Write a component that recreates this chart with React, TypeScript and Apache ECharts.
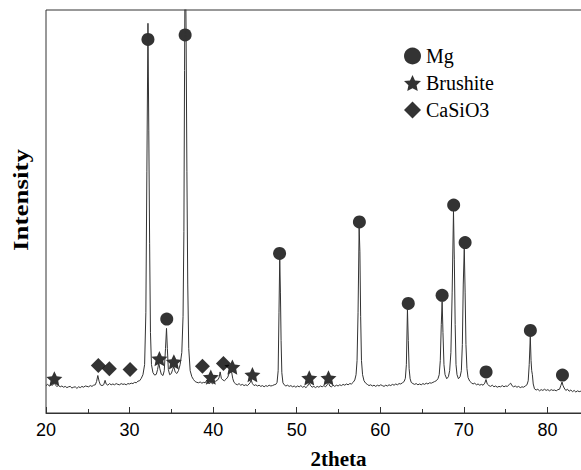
import React, { useEffect, useRef } from "react";
import * as echarts from "echarts";

// XRD pattern: [2theta, intensity (0-100 of the plot height)]
const pattern: [number, number][] = [
  [20.0, 6.8], [20.2, 7.1], [20.4, 6.7], [20.6, 7.0], [20.8, 6.9], [21.0, 7.6], [21.1, 7.0], [21.3, 6.6],
  [21.5, 6.8], [21.7, 6.5], [21.9, 6.7], [22.1, 6.4], [22.3, 6.6], [22.5, 6.3], [22.7, 6.5], [22.9, 6.6],
  [23.1, 6.2], [23.3, 6.4], [23.5, 6.5], [23.7, 6.1], [23.9, 6.5], [24.1, 6.3], [24.3, 6.6], [24.5, 6.4],
  [24.7, 6.7], [24.9, 6.6], [25.1, 6.5], [25.3, 6.8], [25.5, 6.6], [25.7, 6.9], [25.9, 7.0], [26.05, 7.8],
  [26.2, 9.3], [26.35, 7.9], [26.5, 7.0], [26.7, 6.8], [26.9, 7.0], [27.07, 8.1], [27.2, 7.2], [27.4, 6.9],
  [27.6, 7.3], [27.8, 7.0], [28.0, 7.2], [28.2, 7.0], [28.4, 7.3], [28.6, 7.1], [28.8, 7.0], [29.0, 7.3],
  [29.2, 7.1], [29.4, 7.2], [29.6, 7.0], [29.8, 7.3], [30.0, 7.2], [30.2, 7.4], [30.4, 7.3], [30.6, 7.6],
  [30.8, 7.5], [31.0, 7.9], [31.2, 8.0], [31.4, 8.6], [31.6, 9.5], [31.8, 12], [31.95, 25], [32.07, 60],
  [32.2, 96.7], [32.3, 70], [32.4, 42], [32.5, 20], [32.62, 12], [32.8, 10.0], [33.0, 9.4], [33.2, 9.6],
  [33.35, 10.8], [33.5, 12.5], [33.62, 11.0], [33.8, 9.6], [34.0, 9.3], [34.15, 10.5], [34.3, 16], [34.42, 21],
  [34.52, 16], [34.64, 10.8], [34.8, 9.5], [35.0, 9.8], [35.15, 10.8], [35.3, 11.5], [35.45, 10.2], [35.65, 9.8],
  [35.85, 10.5], [36.05, 12], [36.25, 15], [36.4, 24], [36.5, 45], [36.58, 85], [36.66, 120], [36.76, 95],
  [36.86, 60], [36.96, 32], [37.08, 16], [37.25, 10.5], [37.45, 9.0], [37.65, 8.3], [37.85, 7.8], [38.05, 7.6],
  [38.25, 7.5], [38.45, 7.7], [38.65, 7.4], [38.85, 7.6], [39.05, 7.5], [39.25, 8.2], [39.4, 7.4], [39.6, 7.3],
  [39.75, 7.9], [39.9, 7.2], [40.1, 7.6], [40.3, 7.9], [40.5, 8.1], [40.7, 8.7], [40.84, 10.2], [40.98, 8.6],
  [41.15, 8.2], [41.35, 8.0], [41.55, 8.4], [41.75, 8.9], [41.9, 9.8], [42.05, 11.0], [42.2, 10.3], [42.35, 8.5],
  [42.5, 7.6], [42.7, 7.2], [42.9, 7.0], [43.1, 7.3], [43.3, 6.9], [43.5, 7.1], [43.7, 6.8], [43.9, 7.0],
  [44.1, 6.8], [44.3, 7.2], [44.45, 7.6], [44.55, 8.2], [44.7, 7.3], [44.9, 6.8], [45.1, 7.0], [45.3, 6.7],
  [45.5, 6.9], [45.7, 6.6], [45.9, 6.8], [46.1, 6.5], [46.3, 6.8], [46.5, 6.6], [46.7, 6.9], [46.9, 6.7],
  [47.1, 6.8], [47.3, 7.0], [47.5, 7.1], [47.65, 7.6], [47.78, 10.5], [47.88, 25], [47.97, 38.5], [48.05, 30],
  [48.13, 18], [48.22, 10], [48.35, 7.5], [48.5, 7.0], [48.7, 6.7], [48.9, 6.9], [49.1, 6.6], [49.3, 6.8],
  [49.5, 6.5], [49.7, 6.7], [49.9, 6.4], [50.1, 6.7], [50.3, 6.5], [50.5, 6.8], [50.7, 6.4], [50.9, 6.6],
  [51.1, 6.3], [51.3, 6.7], [51.5, 7.5], [51.65, 6.8], [51.85, 6.4], [52.05, 6.6], [52.25, 6.3], [52.45, 6.6],
  [52.65, 6.4], [52.85, 6.7], [53.05, 6.5], [53.25, 6.8], [53.45, 6.5], [53.65, 7.0], [53.8, 7.6], [53.95, 6.7],
  [54.15, 6.5], [54.35, 6.9], [54.55, 6.6], [54.75, 6.9], [54.95, 6.7], [55.15, 7.0], [55.35, 6.8], [55.55, 7.1],
  [55.75, 6.9], [55.95, 7.2], [56.15, 7.0], [56.35, 7.3], [56.55, 7.2], [56.75, 7.6], [56.95, 8.2], [57.1, 9.5],
  [57.22, 13], [57.34, 25], [57.47, 46], [57.56, 40], [57.65, 24], [57.75, 13], [57.88, 9.5], [58.05, 8.0],
  [58.25, 7.4], [58.45, 7.1], [58.65, 6.8], [58.85, 7.0], [59.05, 6.7], [59.25, 6.9], [59.45, 6.6], [59.65, 6.9],
  [59.85, 6.7], [60.05, 7.0], [60.25, 6.8], [60.45, 6.6], [60.65, 6.9], [60.85, 6.7], [61.05, 7.0], [61.25, 6.8],
  [61.45, 7.1], [61.65, 6.9], [61.85, 7.2], [62.05, 7.0], [62.25, 7.3], [62.45, 7.2], [62.65, 7.5], [62.85, 7.8],
  [63.0, 8.6], [63.12, 12], [63.25, 25.7], [63.35, 18], [63.45, 11], [63.57, 8.5], [63.7, 7.6], [63.9, 7.3],
  [64.1, 7.1], [64.3, 7.3], [64.5, 7.0], [64.7, 7.2], [64.9, 7.0], [65.1, 7.3], [65.3, 7.1], [65.5, 7.4],
  [65.7, 7.2], [65.9, 7.5], [66.1, 7.4], [66.3, 7.6], [66.5, 7.8], [66.7, 8.0], [66.9, 8.5], [67.05, 9.5],
  [67.18, 13], [67.3, 22], [67.4, 27.7], [67.5, 20], [67.62, 12], [67.75, 9.5], [67.95, 8.5], [68.15, 9.0],
  [68.3, 10.5], [68.45, 15], [68.6, 30], [68.76, 50.1], [68.86, 38], [68.96, 22], [69.06, 12], [69.18, 9.5],
  [69.35, 8.5], [69.55, 9.0], [69.7, 10.5], [69.82, 17], [69.93, 32], [70.05, 40.9], [70.15, 30], [70.25, 17],
  [70.37, 11], [70.5, 8.8], [70.7, 7.9], [70.9, 7.5], [71.1, 7.2], [71.3, 7.4], [71.5, 7.0], [71.7, 7.2],
  [71.9, 6.9], [72.1, 7.1], [72.3, 6.9], [72.5, 7.4], [72.65, 8.3], [72.8, 7.2], [73.0, 6.8], [73.2, 6.6],
  [73.4, 6.9], [73.6, 6.5], [73.8, 6.7], [74.0, 6.4], [74.2, 6.6], [74.4, 6.5], [74.6, 6.8], [74.8, 6.5],
  [75.0, 6.7], [75.2, 6.6], [75.45, 7.1], [75.6, 7.4], [75.75, 6.8], [75.95, 6.5], [76.15, 6.7], [76.35, 6.4],
  [76.55, 6.6], [76.75, 6.3], [76.95, 6.5], [77.15, 6.4], [77.35, 6.7], [77.55, 7.0], [77.7, 8.0], [77.82, 12],
  [77.95, 19], [78.04, 13], [78.12, 10.5], [78.2, 9.5], [78.3, 7.2], [78.45, 6.0], [78.65, 5.7], [78.85, 5.9],
  [79.05, 5.5], [79.25, 5.8], [79.45, 5.6], [79.65, 5.9], [79.85, 5.6], [80.05, 5.8], [80.25, 5.5], [80.45, 5.8],
  [80.65, 5.6], [80.85, 5.7], [81.05, 5.5], [81.25, 5.8], [81.45, 5.9], [81.6, 6.8], [81.75, 7.7], [81.85, 6.9],
  [82.0, 6.2], [82.2, 5.6], [82.4, 5.9], [82.6, 5.4], [82.8, 5.7], [83.0, 5.3], [83.2, 5.6], [83.4, 5.2],
  [83.6, 5.5], [83.8, 5.3], [84.0, 5.4], [84.2, 5.2], [84.4, 5.5], [84.6, 5.3],
];

// Phase markers [2theta, marker height]
const mgMarks: [number, number][] = [
  [32.2, 92.7], [34.45, 23.3], [36.65, 93.8], [47.95, 39.6], [57.5, 47.4], [63.35, 27.2],
  [67.4, 29.2], [68.78, 51.6], [70.15, 42.3], [72.66, 10.2], [77.96, 20.5], [81.8, 9.4],
];
const brushiteMarks: [number, number][] = [
  [21.0, 8.5], [33.57, 13.5], [35.3, 12.7], [39.72, 8.9], [42.3, 11.4], [44.7, 9.5], [51.5, 8.7], [53.8, 8.7],
];
const casio3Marks: [number, number][] = [
  [26.26, 11.8], [27.58, 11.0], [30.06, 10.8], [38.72, 11.6], [41.23, 12.3],
];

const legendNames = ["Mg", "Brushite", "CaSiO3"];
const xTickLabels = ["20", "30", "40", "50", "60", "70", "80"];

const STAR =
  "path://M50,0L64.11,30.58L97.55,34.55L72.83,57.42L79.39,90.45L50,74L20.61,90.45L27.17,57.42L2.45,34.55L35.89,30.58Z";
const legendIcons = ["circle", STAR, "diamond"];
const SERIF = "Liberation Serif";
const SANS = "Liberation Sans";

export default function App() {
  const ref = useRef<HTMLDivElement>(null);
  useEffect(() => {
    document.body.style.margin = "0";
    const chart = echarts.init(ref.current!, null, { renderer: "svg" });
    const legendText = { fontFamily: SERIF, fontSize: 20, color: "#000", fontWeight: "normal" };
    chart.setOption({
      animation: false,
      textStyle: { fontFamily: SERIF },
      grid: {
        left: 46,
        right: -50,
        top: 10,
        bottom: 57,
        outerBoundsMode: "none",
        containLabel: false,
        show: true,
        borderColor: "#333",
        borderWidth: 1,
      },
      legend: {
        orient: "vertical",
        left: 399,
        top: 41,
        itemWidth: 17,
        itemHeight: 17,
        itemGap: 7,
        data: legendNames.map((n, i) => ({ name: n, icon: legendIcons[i], textStyle: legendText })),
        textStyle: legendText,
      },
      xAxis: {
        type: "value",
        min: 20,
        max: 90,
        interval: 10,
        name: "2theta",
        nameLocation: "middle",
        nameGap: 35,
        nameTextStyle: { fontFamily: SERIF, fontWeight: "bold", fontSize: 21, color: "#000" },
        axisLine: { show: true, lineStyle: { color: "#333", width: 1 } },
        axisTick: { show: true, inside: true, length: 6, lineStyle: { color: "#333" } },
        minorTick: { show: true, splitNumber: 2, length: 4, lineStyle: { color: "#333" } },
        axisLabel: {
          fontFamily: SANS,
          fontSize: 18,
          color: "#000",
          margin: 8,
          formatter: (v: number) => (xTickLabels.includes(String(v)) ? String(v) : ""),
        },
        splitLine: { show: false },
      },
      yAxis: {
        type: "value",
        min: 0,
        max: 100,
        axisLine: { show: false },
        axisTick: { show: false },
        axisLabel: { show: false },
        splitLine: { show: false },
      },
      graphic: [
        {
          type: "text",
          x: 21,
          y: 200,
          rotation: Math.PI / 2,
          scaleX: 1.35,
          style: {
            text: "Intensity",
            fontFamily: SERIF,
            fontWeight: "bold",
            fontSize: 20,
            fill: "#000",
            align: "center",
            verticalAlign: "middle",
          },
        },
      ],
      series: [
        {
          name: "pattern",
          type: "line",
          data: pattern,
          showSymbol: false,
          symbol: "none",
          clip: true,
          lineStyle: { color: "#333", width: 1 },
          silent: true,
        },
        {
          name: legendNames[0],
          type: "scatter",
          data: mgMarks,
          symbol: "circle",
          symbolSize: 13,
          itemStyle: { color: "#000" },
        },
        {
          name: legendNames[1],
          type: "scatter",
          data: brushiteMarks,
          symbol: STAR,
          symbolSize: 16,
          symbolKeepAspect: true,
          itemStyle: { color: "#000" },
        },
        {
          name: legendNames[2],
          type: "scatter",
          data: casio3Marks,
          symbol: "diamond",
          symbolSize: 15,
          itemStyle: { color: "#000" },
        },
      ],
    });
    return () => chart.dispose();
  }, []);
  return <div ref={ref} style={{ width: 581, height: 470 }} />;
}
